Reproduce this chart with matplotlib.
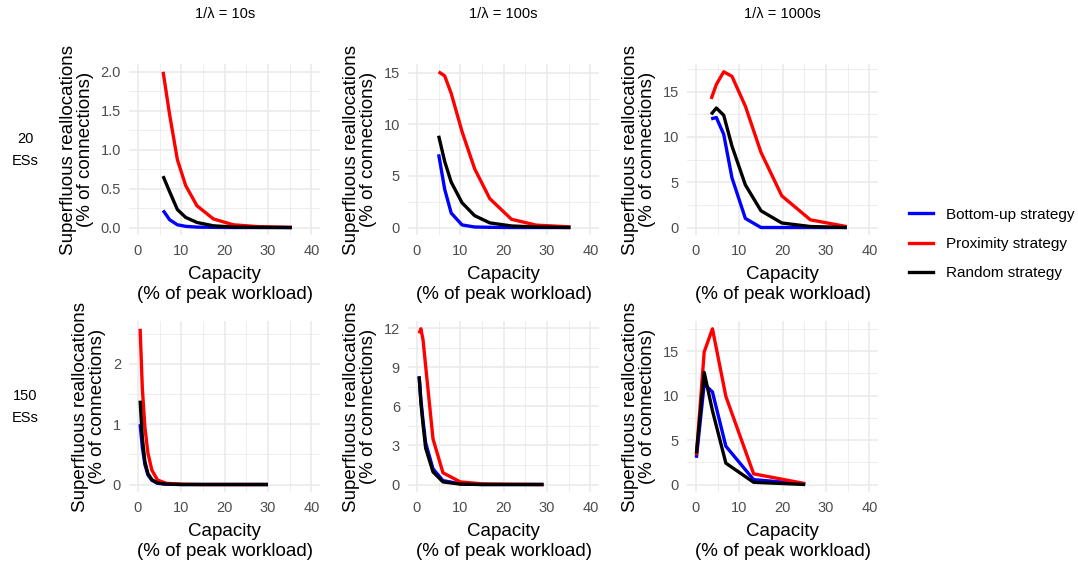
import matplotlib
matplotlib.use("Agg")
import matplotlib.pyplot as plt
from matplotlib.lines import Line2D
from matplotlib.ticker import MultipleLocator, FixedLocator

plt.rcParams['font.family'] = ['Liberation Sans', 'DejaVu Sans']

col_titles = ["1/\u03bb = 10s", "1/\u03bb = 100s", "1/\u03bb = 1000s"]
row_titles = ["20\nESs", "150\nESs"]
strategies = ["Bottom-up strategy", "Proximity strategy", "Random strategy"]
colors = ["#0000FF", "#FF0000", "#000000"]

# Row 1: 20 ESs
x_20_10 = [5.8, 7.3, 9.1, 11.0, 13.6, 17.4, 22.0, 27.5, 35.5]
bu_20_10 = [0.22, 0.10, 0.035, 0.015, 0.005, 0.002, 0.0, 0.0, 0.0]
px_20_10 = [2.00, 1.45, 0.87, 0.54, 0.28, 0.11, 0.035, 0.012, 0.0]
rd_20_10 = [0.66, 0.46, 0.23, 0.13, 0.065, 0.022, 0.006, 0.002, 0.0]

x_20_100 = [5.0, 6.4, 7.9, 10.4, 13.3, 16.8, 21.8, 27.5, 35.4]
bu_20_100 = [7.1, 3.7, 1.4, 0.25, 0.05, 0.02, 0.0, 0.0, 0.0]
px_20_100 = [15.1, 14.7, 13.0, 9.3, 5.7, 2.8, 0.8, 0.23, 0.06]
rd_20_100 = [8.9, 6.4, 4.4, 2.4, 1.15, 0.45, 0.15, 0.05, 0.0]

x_20_1000 = [3.5, 4.7, 6.4, 8.3, 11.4, 15.0, 19.8, 26.4, 34.8]
bu_20_1000 = [12.0, 12.15, 10.3, 5.5, 1.0, 0.0, 0.0, 0.0, 0.0]
px_20_1000 = [14.2, 15.8, 17.2, 16.7, 13.4, 8.3, 3.5, 0.85, 0.1]
rd_20_1000 = [12.5, 13.2, 12.4, 9.0, 4.7, 1.85, 0.5, 0.11, 0.0]

# Row 2: 150 ESs
x_150_10 = [0.5, 1.0, 1.6, 2.3, 3.2, 4.5, 6.5, 10.0, 15.0, 20.0, 25.0, 30.0]
bu_150_10 = [1.0, 0.62, 0.33, 0.16, 0.07, 0.02, 0.005, 0.0, 0.0, 0.0, 0.0, 0.0]
px_150_10 = [2.58, 1.6, 0.95, 0.52, 0.24, 0.075, 0.02, 0.005, 0.0, 0.0, 0.0, 0.0]
rd_150_10 = [1.39, 0.78, 0.38, 0.18, 0.08, 0.025, 0.008, 0.0, 0.0, 0.0, 0.0, 0.0]

x_150_100 = [0.5, 0.9, 1.4, 2.0, 3.7, 6.0, 10.0, 15.0, 20.0, 25.0, 29.2]
bu_150_100 = [8.3, 6.5, 4.9, 3.2, 1.2, 0.3, 0.05, 0.0, 0.0, 0.0, 0.0]
px_150_100 = [11.6, 11.95, 11.1, 9.1, 3.5, 0.9, 0.2, 0.05, 0.02, 0.01, 0.0]
rd_150_100 = [8.3, 6.3, 4.6, 2.8, 0.97, 0.2, 0.03, 0.0, 0.0, 0.0, 0.0]

x_150_1000 = [0.1, 1.9, 3.8, 6.9, 13.3, 25.2]
bu_150_1000 = [3.0, 11.3, 10.4, 4.3, 0.55, 0.05]
px_150_1000 = [3.3, 14.9, 17.5, 9.9, 1.2, 0.1]
rd_150_1000 = [3.5, 12.6, 8.3, 2.4, 0.25, 0.0]

panels = [
    [(x_20_10, [bu_20_10, px_20_10, rd_20_10]),
     (x_20_100, [bu_20_100, px_20_100, rd_20_100]),
     (x_20_1000, [bu_20_1000, px_20_1000, rd_20_1000])],
    [(x_150_10, [bu_150_10, px_150_10, rd_150_10]),
     (x_150_100, [bu_150_100, px_150_100, rd_150_100]),
     (x_150_1000, [bu_150_1000, px_150_1000, rd_150_1000])],
]
y_steps = [[0.5, 5, 5], [1, 3, 5]]
y_fmt = [["{:.1f}", "{:.0f}", "{:.0f}"], ["{:.0f}", "{:.0f}", "{:.0f}"]]

W, H = 1078, 565
fig = plt.figure(figsize=(W / 100, H / 100), dpi=100)

lefts = [129.3, 408.3, 687.3]
pw = 190.7
tops = [64.0, 321.0]
ph = 171.3

grid_c = "#EBEBEB"
tick_c = "#4D4D4D"

for r in range(2):
    for c in range(3):
        ax = fig.add_axes([lefts[c] / W, 1 - (tops[r] + ph) / H, pw / W, ph / H])
        xs, ys_list = panels[r][c]
        for ys, col in zip(ys_list, colors):
            ax.plot(xs, ys, color=col, lw=2.4, solid_capstyle='butt', solid_joinstyle='round')
        ax.set_xlim(-2, 42)
        ymax = max(max(v) for v in ys_list)
        ax.set_ylim(-0.05 * ymax, 1.05 * ymax)
        st = y_steps[r][c]
        ax.xaxis.set_minor_locator(FixedLocator([5, 15, 25, 35]))
        ax.yaxis.set_major_locator(MultipleLocator(st))
        ax.yaxis.set_minor_locator(MultipleLocator(st / 2))
        fmt = y_fmt[r][c]
        yt = [t for t in ax.get_yticks() if -0.05 * ymax <= t <= 1.05 * ymax]
        ax.set_yticks(yt)
        ax.set_yticklabels([fmt.format(t) for t in yt])
        ax.set_xticks([0, 10, 20, 30, 40])
        ax.set_xticklabels(["0", "10", "20", "30", "40"])
        ax.grid(True, which='major', color=grid_c, lw=1.2)
        ax.grid(True, which='minor', color=grid_c, lw=0.6)
        ax.set_axisbelow(True)
        for s in ax.spines.values():
            s.set_visible(False)
        ax.tick_params(which='both', length=0, labelsize=10.5, labelcolor=tick_c)
        ax.tick_params(axis='x', pad=6)
        ax.tick_params(axis='y', pad=6)
        ax.set_xlabel("Capacity\n(% of peak workload)", fontsize=13.5, linespacing=1.2, labelpad=6)
        ax.set_ylabel("Superfluous reallocations\n(% of connections)", fontsize=13.5, linespacing=1.0, labelpad=5)
        if r == 0:
            fig.text((lefts[c] + pw / 2) / W, 1 - 14 / H, col_titles[c], ha='center', va='center', fontsize=10.5)
    fig.text(25 / W, 1 - (tops[r] + ph / 2) / H, row_titles[r], ha='center', va='center', fontsize=10.5, linespacing=1.75)

handles = [Line2D([0], [0], color=col, lw=2.4) for col in colors]
fig.legend(handles, strategies, loc='center left', bbox_to_anchor=(909 / W, 1 - 244 / H),
           frameon=False, fontsize=11, handlelength=1.6, handletextpad=0.85, labelspacing=1.0,
           borderpad=0, borderaxespad=0)

fig.savefig("out.png", dpi=100)
